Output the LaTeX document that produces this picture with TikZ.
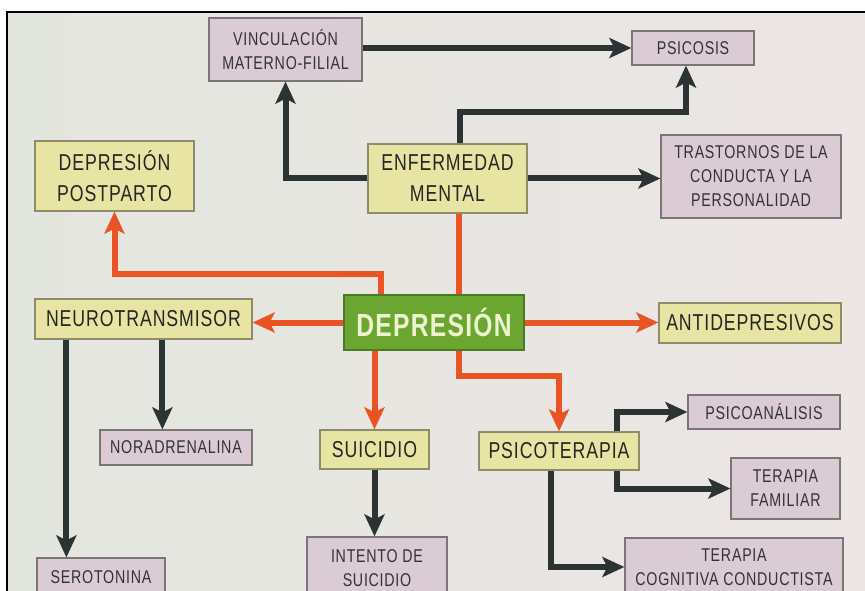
\documentclass[tikz,border=0pt]{standalone}
\usepackage{fontspec}
\usepackage{xcolor}
\usepackage{tikz}
\usetikzlibrary{arrows.meta, positioning, calc}
\newfontfamily\boxfont[FakeStretch=0.77,LetterSpace=4]{Liberation Sans}
\definecolor{mapyellow}{RGB}{232,228,163}
\definecolor{mapyellowline}{RGB}{143,140,106}
\definecolor{mappink}{RGB}{218,203,212}
\definecolor{mappinkline}{RGB}{125,116,121}
\definecolor{mapgreen}{RGB}{106,166,48}
\definecolor{mapgreenline}{RGB}{74,122,40}
\definecolor{maporange}{RGB}{234,83,35}
\definecolor{mapdark}{RGB}{44,51,51}
\definecolor{mapbgleft}{RGB}{227,230,222}
\definecolor{mapbgright}{RGB}{236,230,229}

\begin{document}
\begin{tikzpicture}[x=1pt,y=-1pt,
    >={Stealth[length=22pt,width=20pt,inset=5pt]},
    ybox/.style={draw=mapyellowline,fill=mapyellow,line width=1.2pt,inner sep=0pt,align=center,
        text=black!85,font=\boxfont\fontsize{23}{31}\selectfont},
    pbox/.style={draw=mappinkline,fill=mappink,line width=1.2pt,inner sep=0pt,align=center,
        text=black!80,font=\boxfont\fontsize{18.5}{24}\selectfont},
    gbox/.style={draw=mapgreenline,fill=mapgreen,line width=1.2pt,inner sep=0pt,
        text={rgb,255:red,238;green,243;blue,207},font=\boxfont\bfseries\fontsize{32}{34}\selectfont},
    oline/.style={maporange,line width=6pt},
    oarrow/.style={oline,->},
    darrow/.style={mapdark,line width=6pt,->}]
\useasboundingbox (0,0) rectangle (865,591);
\clip (0,0) rectangle (865,591);

% Background and frame
\fill[white] (0,0) rectangle (865,591);
\shade[left color=mapbgleft,right color=mapbgright] (7,12) rectangle (865,591);
\draw[black,line width=2.5pt] (7,591) -- (7,12) -- (865,12);

% Boxes
\node[gbox, minimum width=180, minimum height=55] (dep) at (434,322.5) {DEPRESIÓN};
\node[pbox, minimum width=153, minimum height=63] (vinc) at (285.5,49.5) {VINCULACIÓN\\MATERNO-FILIAL};
\node[pbox, minimum width=122, minimum height=34] (psic) at (693,48) {PSICOSIS};
\node[ybox, minimum width=159, minimum height=70] (dpp) at (114.5,176) {DEPRESIÓN\\POSTPARTO};
\node[ybox, minimum width=159, minimum height=69] (enf) at (447.5,178.5) {ENFERMEDAD\\MENTAL};
\node[pbox, minimum width=180, minimum height=83] (tras) at (751,176.5) {TRASTORNOS DE LA\\CONDUCTA Y LA\\PERSONALIDAD};
\node[ybox, minimum width=217, minimum height=40] (neu) at (143.5,319) {NEUROTRANSMISOR};
\node[ybox, minimum width=182, minimum height=40] (anti) at (750,323) {ANTIDEPRESIVOS};
\node[pbox, minimum width=152, minimum height=35] (nor) at (176,447.5) {NORADRENALINA};
\node[ybox, minimum width=109, minimum height=39] (sui) at (374.5,449.5) {SUICIDIO};
\node[ybox, minimum width=160, minimum height=38] (psico) at (559,451) {PSICOTERAPIA};
\node[pbox, minimum width=152, minimum height=34] (psan) at (764,412) {PSICOANÁLISIS};
\node[pbox, minimum width=109, minimum height=61] (fam) at (785.5,488.5) {TERAPIA\\FAMILIAR};
\node[pbox, minimum width=218, minimum height=58] (cog) at (734,567) {TERAPIA\\COGNITIVA CONDUCTISTA};
\node[pbox, minimum width=128, minimum height=38] (ser) at (101,577) {SEROTONINA};
\node[pbox, minimum width=140, minimum height=62] (int) at (377,568) {INTENTO DE\\SUICIDIO};

% Orange arrows from the centre
\coordinate (d1) at ([xshift=38pt]dep.north west);
\coordinate (d2) at ([xshift=116pt]dep.north west);
\coordinate (d3) at ([xshift=116pt]dep.south west);
\draw[oarrow] (d1) -- ++(0,-20) -| (dpp.south);
\draw[oline] (d2) -- (d2 |- enf.south);
\draw[oarrow] (dep.west) -- (dep.west -| neu.east);
\draw[oarrow] (dep.east) -- (dep.east -| anti.west);
\draw[oarrow] (sui.north |- dep.south) -- (sui.north);
\draw[oarrow] (d3) -- ++(0,25) -| (psico.north);

% Dark arrows
\coordinate (e1) at ([xshift=93pt]enf.north west);
\coordinate (n1) at ([xshift=32pt]neu.south west);
\coordinate (n2) at ([xshift=128pt]neu.south west);
\coordinate (p1) at ([xshift=-23pt]psico.north east);
\coordinate (p2) at ([xshift=-23pt]psico.south east);
\coordinate (p3) at ([xshift=-8pt]psico.south);
\draw[darrow] (enf.west) -| (vinc.south);
\draw[darrow] (psic.west -| vinc.east) -- (psic.west);
\draw[darrow] (e1) -- ++(0,-31) -| ([xshift=-7pt]psic.south);
\draw[darrow] (enf.east) -- (enf.east -| tras.west);
\draw[darrow] (n1) -- (n1 |- ser.north);
\draw[darrow] (n2) -- (n2 |- nor.north);
\draw[darrow] (sui.south) -- (sui.south |- int.north);
\draw[darrow] (p1) |- (psan.west);
\draw[darrow] (p2) |- (fam.west);
\draw[darrow] (p3) |- (cog.west);
\end{tikzpicture}
\end{document}
